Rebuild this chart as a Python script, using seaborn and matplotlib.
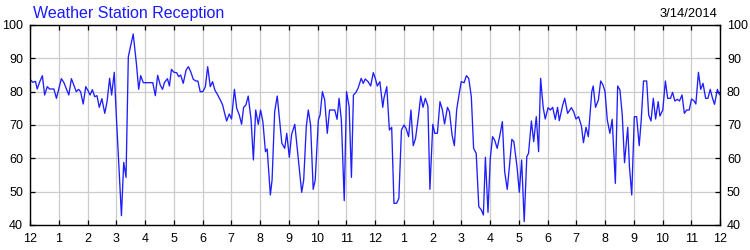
import matplotlib
matplotlib.use("Agg")
import matplotlib.pyplot as plt
import seaborn as sns
import pandas as pd

# ---- data (hours since midnight, reception %) ----
hours = [
    0.00, 0.10, 0.19, 0.25, 0.34, 0.43, 0.51, 0.60, 0.68, 0.83, 0.92, 1.09, 1.18, 1.35, 1.44,
    1.61, 1.69, 1.76, 1.85, 1.94, 2.02, 2.09, 2.17, 2.25, 2.33, 2.41, 2.50, 2.60, 2.68,
    2.77, 2.84, 2.93, 3.01, 3.18, 3.26, 3.34, 3.42, 3.59, 3.70, 3.78, 3.85, 3.94, 4.10,
    4.27, 4.36, 4.44, 4.53, 4.61, 4.68, 4.78,
    4.85, 4.92, 5.01, 5.10, 5.17, 5.24, 5.33, 5.43, 5.51, 5.59, 5.68, 5.77, 5.84, 5.92,
    6.01, 6.10, 6.18, 6.27, 6.35, 6.43, 6.53, 6.62, 6.70, 6.77, 6.84, 6.93, 7.01, 7.11,
    7.19, 7.28, 7.36, 7.43, 7.51, 7.59, 7.69, 7.77, 7.85, 7.94, 8.02, 8.10, 8.19, 8.25,
    8.36, 8.42, 8.51, 8.60, 8.68, 8.76, 8.86, 8.93, 9.02, 9.10, 9.21, 9.29, 9.37, 9.45,
    9.52, 9.61, 9.68, 9.76, 9.85, 9.92, 10.03, 10.09, 10.17, 10.25, 10.34, 10.42, 10.60,
    10.68, 10.75, 10.83, 10.93, 11.01, 11.10, 11.18, 11.25, 11.33, 11.41, 11.52, 11.59,
    11.66, 11.76, 11.85, 11.94, 12.01, 12.08, 12.17, 12.27, 12.31, 12.41, 12.50, 12.58,
    12.66, 12.75, 12.83, 12.92, 13.01, 13.08, 13.17, 13.25, 13.33, 13.41, 13.51, 13.59,
    13.67, 13.75, 13.84, 13.91, 14.01, 14.08, 14.17, 14.26, 14.34, 14.42,
    14.52, 14.59, 14.68, 14.76, 14.84, 14.93, 15.00, 15.10, 15.18, 15.26, 15.35, 15.43,
    15.52, 15.61, 15.70, 15.77, 15.84, 15.93, 16.01, 16.09, 16.16, 16.25, 16.35, 16.43,
    16.51, 16.60, 16.68, 16.76, 16.83, 16.94, 17.02, 17.10, 17.19, 17.28, 17.34, 17.44,
    17.52, 17.61, 17.69, 17.76, 17.85, 17.92, 18.02, 18.10, 18.18, 18.27, 18.35, 18.41,
    18.53, 18.60, 18.70, 18.83, 18.91, 18.99, 19.08, 19.18,
    19.25, 19.34, 19.42, 19.54, 19.59, 19.67, 19.77, 19.85, 19.93, 20.00, 20.08, 20.17,
    20.25, 20.36, 20.44, 20.52, 20.60, 20.68, 20.79, 20.85, 20.93, 21.02, 21.10, 21.19,
    21.26, 21.34, 21.45, 21.52, 21.60, 21.68, 21.76, 21.85, 21.91, 22.01, 22.10, 22.18,
    22.28, 22.35, 22.43, 22.52, 22.59, 22.68, 22.76, 22.84, 22.93, 23.01, 23.10, 23.16,
    23.25, 23.33, 23.41, 23.50, 23.58, 23.66, 23.74, 23.81, 23.91, 23.96, 24.00,
]
reception = [
    83.7, 82.8, 83.1, 80.8, 83.0, 84.8, 79.0, 81.5, 80.8, 80.8, 78.0, 83.9, 82.7, 79.0, 83.9,
    80.0, 80.7, 80.0, 76.3, 81.5, 80.3, 79.0, 80.6, 78.5, 78.8, 75.3, 77.9, 73.5, 77.0,
    84.0, 79.0, 85.8, 71.5, 42.8, 58.8, 54.3, 90.5, 97.3, 88.5, 80.7, 84.8, 82.7, 82.7,
    82.7, 78.8, 84.9, 82.0, 80.7, 82.8, 83.9,
    81.7, 86.7, 85.8, 85.7, 84.5, 85.0, 82.5, 86.5, 87.5, 86.0, 83.7, 83.2, 83.2, 80.0,
    80.0, 81.5, 87.5, 81.5, 83.0, 80.5, 79.0, 77.5, 76.0, 73.5, 71.2, 73.3, 71.8, 80.7,
    75.0, 73.0, 70.2, 75.3, 76.0, 78.7, 71.5, 59.5, 74.5, 70.2, 74.5, 71.0, 62.0, 62.8,
    49.0, 53.5, 74.0, 78.7, 71.5, 64.5, 63.0, 67.5, 60.3, 67.2, 70.2, 63.5, 56.5, 49.8,
    53.5, 69.5, 74.5, 70.0, 50.7, 53.5, 71.5, 73.0, 80.0, 77.5, 67.5, 74.5, 74.5,
    71.7, 78.0, 71.5, 47.3, 80.0, 75.5, 54.3, 79.0, 79.7, 81.0, 84.0, 82.5,
    83.8, 83.0, 81.7, 85.7, 84.0, 81.7, 83.0, 75.3, 78.0, 81.5, 68.5, 69.3,
    46.5, 46.5, 48.0, 68.5, 70.0, 69.0, 66.5, 74.5, 63.8, 66.0, 72.5, 78.7,
    75.3, 78.0, 75.7, 50.7, 70.2, 67.5, 67.5, 77.0, 74.7, 70.3,
    75.3, 74.0, 67.0, 63.8, 74.5, 79.5, 83.0, 82.7, 84.8, 84.0, 78.5, 63.0,
    61.5, 45.5, 44.5, 43.0, 60.3, 43.8, 60.0, 66.5, 65.5, 63.0, 67.2, 71.0,
    56.0, 50.7, 58.0, 65.7, 65.0, 57.5, 49.8, 59.5, 41.0, 60.5, 61.5, 71.2,
    65.0, 72.5, 62.0, 84.0, 75.3, 71.8, 75.2, 74.5, 75.3, 71.7, 75.3, 71.3,
    76.0, 78.0, 73.5, 75.2, 74.0, 71.8, 72.5, 69.7,
    64.7, 69.3, 66.5, 80.0, 81.7, 75.3, 77.5, 83.2, 82.0, 80.0, 71.5, 67.5,
    71.7, 52.5, 81.7, 80.5, 73.0, 58.7, 69.3, 57.5, 49.0, 72.5, 72.5, 63.8,
    71.5, 83.2, 83.2, 73.0, 71.2, 78.0, 71.8, 77.0, 72.7, 74.5, 83.2, 78.0,
    78.0, 79.8, 77.2, 77.7, 77.2, 79.0, 73.5, 74.5, 74.5, 77.8, 77.2, 76.3,
    85.8, 80.7, 82.5, 78.0, 78.0, 80.7, 78.0, 76.2, 80.7, 79.5, 79.0,
]
tick_hours = list(range(0, 25))
tick_labels = ["12", "1", "2", "3", "4", "5", "6", "7", "8", "9", "10", "11",
               "12", "1", "2", "3", "4", "5", "6", "7", "8", "9", "10", "11", "12"]
y_ticks = [40, 50, 60, 70, 80, 90, 100]
title_text = "Weather Station Reception"
date_text = "3/14/2014"

# ---- plot ----
sns.set_style("white")
plt.rcParams["font.family"] = ["Liberation Sans", "DejaVu Sans"]

df = pd.DataFrame({"hour": hours, "reception": reception})

fig = plt.figure(figsize=(7.5, 2.5), dpi=100)
ax = fig.add_axes([30 / 750, 25 / 250, 690 / 750, 200 / 250])

sns.lineplot(data=df, x="hour", y="reception", ax=ax, color="#1e1eff",
             linewidth=0.95, estimator=None)

ax.set_xlim(0, 24)
ax.set_ylim(40, 100)
ax.set_xticks(tick_hours)
ax.set_xticklabels(tick_labels)
ax.set_yticks(y_ticks)
ax.set_xlabel("")
ax.set_ylabel("")

ax.grid(True, color="#cccccc", linewidth=0.9)
ax.set_axisbelow(True)
for s in ax.spines.values():
    s.set_visible(True)
    s.set_color("black")
    s.set_linewidth(1.0)

ax.tick_params(axis="both", direction="in", length=3.8, width=0.9, color="black",
               labelsize=9, labelcolor="black")
ax.tick_params(axis="x", top=True, bottom=True, pad=5.5)
ax.tick_params(axis="y", left=True, right=True, labelleft=True, labelright=True, pad=5)

fig.text(33 / 750, 1 - 17.5 / 250, title_text, color="#1a1aff", fontsize=11.5,
         ha="left", va="baseline")
fig.text(717 / 750, 1 - 17 / 250, date_text, color="black", fontsize=9.3,
         ha="right", va="baseline")

fig.savefig("out.png", dpi=100)
